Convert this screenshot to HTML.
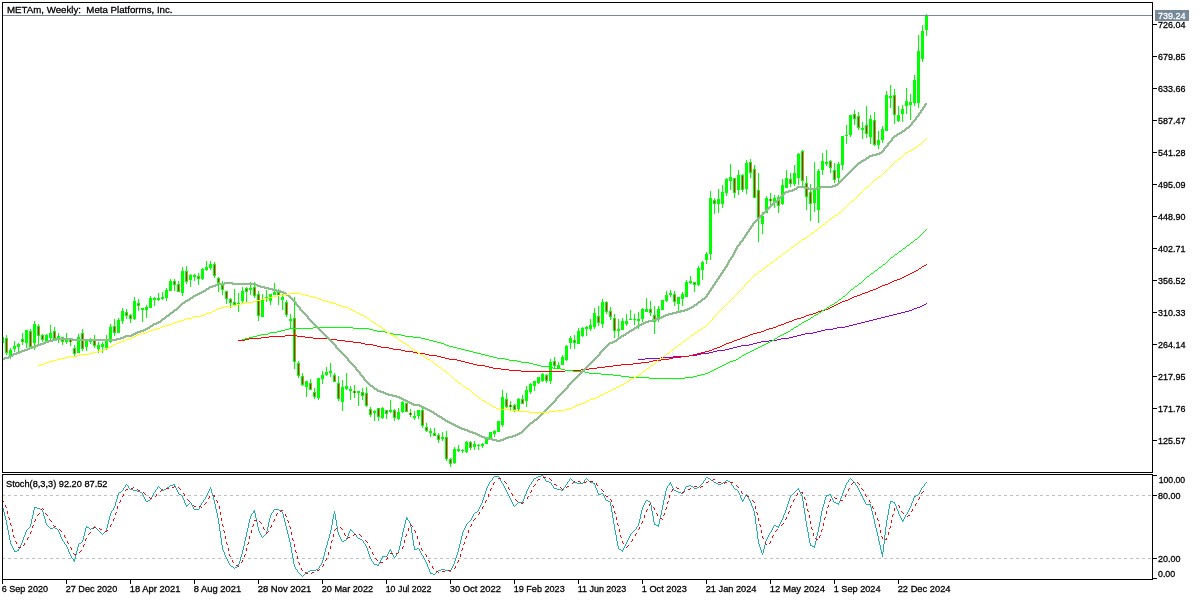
<!DOCTYPE html><html><head><meta charset="utf-8"><title>METAm Weekly</title>
<style>html,body{margin:0;padding:0;background:#fff;}body{width:1200px;height:600px;overflow:hidden;}svg{display:block;will-change:transform;}text{font-family:"Liberation Sans",sans-serif;font-size:9.8px;fill:#000;}</style></head><body>
<svg width="1200" height="600" viewBox="0 0 1200 600">
<rect x="0" y="0" width="1200" height="600" fill="#fff"/>
<defs><clipPath id="cm"><rect x="3" y="3" width="1149" height="469"/></clipPath><clipPath id="cs"><rect x="3" y="475" width="1149" height="104"/></clipPath></defs>
<g shape-rendering="crispEdges" clip-path="url(#cm)">
<path d="M2 335v10M6 335v20M10 348v11M14 341v11M18 343v9M22 333v12M26 330v18M30 329v19M34 321v29M38 324v20M42 334v8M46 334v8M50 325v15M54 327v13M58 333v10M62 337v8M66 333v11M70 338v8M74 345v12M78 334v19M82 329v22M86 340v11M90 338v6M94 335v13M98 342v11M102 342v11M106 335v15M110 324v19M114 319v17M118 318v15M122 308v16M126 309v10M130 314v9M134 297v23M138 299v12M142 308v14M146 305v13M150 296v12M154 297v9M158 293v8M162 292v8M166 288v13M170 279v12M174 279v12M178 281v11M182 267v29M186 266v18M190 274v13M194 274v7M198 273v12M202 268v12M206 261v10M210 261v9M214 262v16M218 277v15M222 281v14M226 291v13M230 298v10M234 289v16M238 293v19M242 287v17M246 287v16M250 282v13M254 282v16M258 291v30M262 294v23M266 290v12M270 294v11M274 283v12M278 289v16M282 294v16M286 300v17M290 314v14M294 297v72M298 361v17M302 373v13M306 381v16M310 379v11M314 388v11M318 378v22M322 371v13M326 367v9M330 363v14M334 373v9M338 376v25M342 380v31M346 373v17M350 386v14M354 385v13M358 391v15M362 388v12M366 387v20M370 407v10M374 410v11M378 408v13M382 407v12M386 410v9M390 400v13M394 409v12M398 408v12M402 401v12M406 403v9M410 409v8M414 411v9M418 410v9M422 408v20M426 423v9M430 428v9M434 428v8M438 433v10M442 432v9M446 431v30M450 458v9M454 447v17M458 445v7M462 449v4M466 441v12M470 441v9M474 441v9M478 444v6M482 443v5M486 437v7M490 432v6M494 430v7M498 421v11M502 390v37M506 393v15M510 401v9M514 404v8M518 398v13M522 395v9M526 386v21M530 383v11M534 381v10M538 377v7M542 373v9M546 374v9M550 359v25M554 357v11M558 362v6M562 355v10M566 345v16M570 336v13M574 335v14M578 328v16M582 327v10M586 326v10M590 319v12M594 308v21M598 306v20M602 299v29M606 301v13M610 307v13M614 314v24M618 319v18M622 318v12M626 314v12M630 310v10M634 314v11M638 312v17M642 308v14M646 298v14M650 301v15M654 306v28M658 306v16M662 300v10M666 291v11M670 290v7M674 291v15M678 297v14M682 292v14M686 280v17M690 276v8M694 282v10M698 266v20M702 261v19M706 252v12M710 191v69M714 198v16M718 189v24M722 185v23M726 178v18M730 164v26M734 178v20M738 170v25M742 174v18M746 160v34M750 159v19M754 165v33M758 173v69M762 212v22M766 196v17M770 193v14M774 195v13M778 195v18M782 179v26M786 170v18M790 173v14M794 165v21M798 153v32M802 150v36M806 176v34M810 184v37M814 162v50M818 169v54M822 153v22M826 150v16M830 160v13M834 163v20M838 162v20M842 136v34M846 125v19M850 115v22M854 110v15M858 112v18M862 122v17M866 106v32M870 115v29M874 112v34M878 131v18M882 126v17M886 91v40M890 85v23M894 89v35M898 106v16M902 105v17M906 88v26M910 94v26M914 75v31M918 35v73M922 25v37M926 14v22" stroke="#00FF00" stroke-width="1" fill="none" transform="translate(0.5,0)"/>
<path d="M1 337h3v6h-3zM5 338h3v15h-3zM9 350h3v6h-3zM13 346h3v3h-3zM17 344h3v3h-3zM21 339h3v3h-3zM25 330h3v13h-3zM29 331h3v16h-3zM33 324h3v19h-3zM37 326h3v10h-3zM41 335h3v5h-3zM45 335h3v7h-3zM49 333h3v5h-3zM53 331h3v8h-3zM57 336h3v3h-3zM61 337h3v5h-3zM65 338h3v4h-3zM69 340h3v2h-3zM73 348h3v6h-3zM77 337h3v16h-3zM81 333h3v16h-3zM85 341h3v6h-3zM89 340h3v2h-3zM93 340h3v6h-3zM97 345h3v4h-3zM101 344h3v3h-3zM105 340h3v8h-3zM109 327h3v15h-3zM113 326h3v7h-3zM117 320h3v13h-3zM121 311h3v10h-3zM125 312h3v4h-3zM129 315h3v4h-3zM133 301h3v18h-3zM137 303h3v3h-3zM141 308h3v2h-3zM145 307h3v3h-3zM149 298h3v10h-3zM153 298h3v2h-3zM157 298h3v2h-3zM161 297h3v2h-3zM165 290h3v8h-3zM169 281h3v10h-3zM173 281h3v4h-3zM177 284h3v8h-3zM181 271h3v22h-3zM185 271h3v11h-3zM189 275h3v5h-3zM193 275h3v2h-3zM197 276h3v3h-3zM201 269h3v10h-3zM205 267h3v3h-3zM209 264h3v4h-3zM213 264h3v12h-3zM217 278h3v5h-3zM221 285h3v5h-3zM225 291h3v8h-3zM229 299h3v4h-3zM233 302h3v3h-3zM237 303h3v2h-3zM241 291h3v10h-3zM245 288h3v4h-3zM249 288h3v2h-3zM253 287h3v9h-3zM257 294h3v22h-3zM261 300h3v17h-3zM265 297h3v2h-3zM269 294h3v7h-3zM273 292h3v3h-3zM277 292h3v4h-3zM281 297h3v3h-3zM285 302h3v13h-3zM289 319h3v2h-3zM293 318h3v44h-3zM297 363h3v13h-3zM301 376h3v9h-3zM305 381h3v6h-3zM309 383h3v7h-3zM313 392h3v5h-3zM317 378h3v20h-3zM321 375h3v4h-3zM325 372h3v3h-3zM329 371h3v2h-3zM333 375h3v7h-3zM337 383h3v16h-3zM341 387h3v15h-3zM345 386h3v3h-3zM349 389h3v2h-3zM353 391h3v2h-3zM357 391h3v2h-3zM361 392h3v4h-3zM365 393h3v13h-3zM369 409h3v6h-3zM373 411h3v2h-3zM377 408h3v9h-3zM381 408h3v10h-3zM385 410h3v4h-3zM389 410h3v2h-3zM393 410h3v8h-3zM397 412h3v7h-3zM401 402h3v10h-3zM405 403h3v9h-3zM409 413h3v2h-3zM413 416h3v2h-3zM417 410h3v6h-3zM421 410h3v16h-3zM425 427h3v4h-3zM429 431h3v2h-3zM433 433h3v3h-3zM437 435h3v5h-3zM441 437h3v2h-3zM445 437h3v22h-3zM449 459h3v5h-3zM453 449h3v14h-3zM457 449h3v2h-3zM461 450h3v1h-3zM465 442h3v10h-3zM469 442h3v6h-3zM473 444h3v3h-3zM477 445h3v1h-3zM481 444h3v2h-3zM485 439h3v5h-3zM489 432h3v6h-3zM493 431h3v3h-3zM497 421h3v11h-3zM501 397h3v28h-3zM505 399h3v8h-3zM509 405h3v2h-3zM513 405h3v5h-3zM517 399h3v10h-3zM521 399h3v5h-3zM525 390h3v11h-3zM529 384h3v8h-3zM533 381h3v5h-3zM537 377h3v6h-3zM541 374h3v7h-3zM545 375h3v6h-3zM549 362h3v19h-3zM553 361h3v5h-3zM557 365h3v3h-3zM561 357h3v8h-3zM565 346h3v14h-3zM569 338h3v5h-3zM573 340h3v3h-3zM577 331h3v13h-3zM581 328h3v8h-3zM585 327h3v2h-3zM589 325h3v4h-3zM593 313h3v14h-3zM597 316h3v7h-3zM601 302h3v22h-3zM605 302h3v10h-3zM609 311h3v6h-3zM613 318h3v13h-3zM617 329h3v2h-3zM621 321h3v9h-3zM625 321h3v3h-3zM629 319h3v1h-3zM633 319h3v1h-3zM637 319h3v2h-3zM641 309h3v10h-3zM645 309h3v3h-3zM649 309h3v4h-3zM653 315h3v7h-3zM657 309h3v11h-3zM661 300h3v10h-3zM665 295h3v6h-3zM669 293h3v2h-3zM673 294h3v8h-3zM677 297h3v7h-3zM681 294h3v5h-3zM685 282h3v15h-3zM689 281h3v2h-3zM693 282h3v3h-3zM697 268h3v17h-3zM701 262h3v8h-3zM705 254h3v6h-3zM709 198h3v56h-3zM713 200h3v4h-3zM717 199h3v5h-3zM721 192h3v12h-3zM725 179h3v14h-3zM729 177h3v4h-3zM733 178h3v15h-3zM737 175h3v15h-3zM741 175h3v15h-3zM745 163h3v26h-3zM749 162h3v11h-3zM753 169h3v29h-3zM757 190h3v29h-3zM761 216h3v8h-3zM765 198h3v15h-3zM769 199h3v2h-3zM773 198h3v4h-3zM777 197h3v9h-3zM781 185h3v19h-3zM785 178h3v10h-3zM789 179h3v5h-3zM793 173h3v11h-3zM797 154h3v24h-3zM801 151h3v30h-3zM805 183h3v14h-3zM809 192h3v12h-3zM813 189h3v14h-3zM817 171h3v39h-3zM821 161h3v9h-3zM825 162h3v2h-3zM829 161h3v7h-3zM833 170h3v10h-3zM837 164h3v14h-3zM841 136h3v29h-3zM845 135h3v1h-3zM849 115h3v20h-3zM853 114h3v5h-3zM857 116h3v12h-3zM861 128h3v2h-3zM865 125h3v9h-3zM869 119h3v18h-3zM873 120h3v25h-3zM877 140h3v5h-3zM881 129h3v11h-3zM885 95h3v36h-3zM889 96h3v2h-3zM893 95h3v20h-3zM897 115h3v6h-3zM901 109h3v5h-3zM905 101h3v5h-3zM909 102h3v3h-3zM913 80h3v23h-3zM917 51h3v52h-3zM921 31h3v28h-3zM925 15h3v15h-3z" fill="#00FF00"/>
<path d="M6 339v13M22 340v1M30 332v14M38 327v8M42 336v3M54 332v6M62 338v3M70 340v2M74 349v4M82 334v14M94 341v4M114 327v5M126 313v2M130 316v2M138 304v1M174 282v2M178 285v6M186 272v9M198 277v1M214 265v10M218 279v3M222 286v3M226 292v6M230 300v2M234 303v1M246 289v2M254 288v7M258 295v20M278 293v2M286 303v11M294 319v42M298 364v11M302 377v7M310 384v5M314 393v3M334 376v5M338 384v14M354 391v2M362 393v2M366 394v11M370 410v4M378 409v7M386 411v2M394 411v6M406 404v7M410 413v2M422 411v14M426 428v2M434 434v1M438 436v3M446 438v20M450 460v3M470 443v4M506 400v6M510 405v2M514 406v3M522 400v3M546 376v4M554 362v3M574 341v1M598 317v5M606 303v8M610 312v4M614 319v11M650 310v2M654 316v5M674 295v6M694 283v1M714 201v2M734 179v13M742 176v13M750 163v9M754 170v27M758 191v27M770 199v2M778 198v7M790 180v3M802 152v28M806 184v12M810 193v10M830 162v5M834 171v8M854 115v3M858 117v10M866 126v7M874 121v23M894 96v18" stroke="#FF0000" stroke-width="1" fill="none" transform="translate(0.5,0)"/>
<path d="M926 303h1M924 304h2M922 305h2M920 306h2M917 307h3M914 308h3M912 309h2M909 310h3M905 311h4M901 312h4M897 313h4M893 314h4M889 315h4M885 316h4M881 317h4M877 318h4M873 319h4M869 320h4M865 321h4M861 322h4M857 323h4M853 324h4M849 325h4M845 326h4M837 327h8M833 328h4M825 329h8M821 330h4M817 331h4M813 332h4M805 333h8M801 334h4M797 335h4M793 336h4M789 337h4M781 338h8M777 339h4M769 340h8M761 341h8M757 342h4M753 343h4M749 344h4M741 345h8M737 346h4M733 347h4M729 348h4M725 349h4M717 350h8M713 351h4M709 352h4M701 353h8M697 354h4M689 355h8M673 356h16M661 357h12M645 358h16M638 359h7" stroke="#9400D3" stroke-width="1" fill="none" transform="translate(0,0.5)"/>
<path d="M926 264h1M924 265h2M922 266h2M921 267h1M919 268h2M918 269h1M916 270h2M914 271h2M912 272h2M910 273h2M908 274h2M906 275h2M904 276h2M902 277h2M900 278h2M897 279h3M894 280h3M892 281h2M890 282h2M888 283h2M885 284h3M882 285h3M880 286h2M878 287h2M876 288h2M873 289h3M870 290h3M868 291h2M865 292h3M862 293h3M860 294h2M857 295h3M854 296h3M852 297h2M850 298h2M848 299h2M845 300h3M842 301h3M840 302h2M838 303h2M836 304h2M834 305h2M832 306h2M830 307h2M828 308h2M825 309h3M821 310h4M818 311h3M816 312h2M813 313h3M809 314h4M806 315h3M804 316h2M801 317h3M797 318h4M794 319h3M792 320h2M789 321h3M786 322h3M784 323h2M781 324h3M778 325h3M776 326h2M773 327h3M769 328h4M766 329h3M764 330h2M761 331h3M757 332h4M753 333h4M750 334h3M285 335h12M748 335h2M269 336h16M297 336h8M745 336h3M261 337h8M305 337h8M742 337h3M249 338h12M313 338h16M740 338h2M245 339h4M329 339h8M737 339h3M238 340h7M337 340h8M734 340h3M345 341h8M732 341h2M353 342h8M729 342h3M361 343h4M726 343h3M365 344h8M724 344h2M373 345h4M722 345h2M377 346h4M720 346h2M381 347h8M717 347h3M389 348h4M714 348h3M393 349h8M712 349h2M401 350h4M709 350h3M405 351h8M705 351h4M413 352h4M701 352h4M417 353h8M697 353h4M425 354h4M693 354h4M429 355h8M689 355h4M437 356h4M681 356h8M441 357h4M673 357h8M445 358h4M669 358h4M449 359h8M661 359h8M457 360h4M653 360h8M461 361h4M649 361h4M465 362h4M641 362h8M469 363h4M633 363h8M473 364h4M621 364h12M477 365h8M613 365h8M485 366h4M605 366h8M489 367h4M597 367h8M493 368h8M589 368h8M501 369h8M581 369h8M509 370h12M565 370h16M521 371h44" stroke="#FF0000" stroke-width="1" fill="none" transform="translate(0,0.5)"/>
<path d="M926 229h1M925 230h1M924 231h1M923 232h1M922 233h1M921 234h1M920 235h1M919 236h1M918 237h1M917 238h1M915 239h2M914 240h1M913 241h1M911 242h2M910 243h1M909 244h1M907 245h2M906 246h1M905 247h1M903 248h2M902 249h1M901 250h1M899 251h2M898 252h1M897 253h1M895 254h2M894 255h1M893 256h1M891 257h2M890 258h1M889 259h1M888 260h1M887 261h1M886 262h1M885 263h1M883 264h2M882 265h1M881 266h1M879 267h2M878 268h1M877 269h1M875 270h2M874 271h1M873 272h1M871 273h2M870 274h1M869 275h1M867 276h2M866 277h1M865 278h1M864 279h1M863 280h1M862 281h1M861 282h1M859 283h2M858 284h1M857 285h1M855 286h2M854 287h1M853 288h1M851 289h2M850 290h1M849 291h1M848 292h1M847 293h1M846 294h1M845 295h1M843 296h2M842 297h1M841 298h1M839 299h2M838 300h1M837 301h1M835 302h2M834 303h1M832 304h2M830 305h2M829 306h1M827 307h2M826 308h1M824 309h2M822 310h2M821 311h1M819 312h2M818 313h1M816 314h2M814 315h2M813 316h1M811 317h2M810 318h1M808 319h2M806 320h2M804 321h2M802 322h2M801 323h1M799 324h2M798 325h1M796 326h2M313 327h40M794 327h2M289 328h24M353 328h16M793 328h1M285 329h4M369 329h4M791 329h2M281 330h4M373 330h4M790 330h1M277 331h4M377 331h8M788 331h2M270 332h7M385 332h4M786 332h2M268 333h2M389 333h4M784 333h2M261 334h7M393 334h8M782 334h2M257 335h4M401 335h4M780 335h2M253 336h4M405 336h8M778 336h2M249 337h4M413 337h8M777 337h1M245 338h4M421 338h4M775 338h2M242 339h3M425 339h4M774 339h1M429 340h4M772 340h2M433 341h4M770 341h2M437 342h4M768 342h2M441 343h3M766 343h2M444 344h2M764 344h2M446 345h3M762 345h2M449 346h4M760 346h2M453 347h4M758 347h2M457 348h4M756 348h2M461 349h4M754 349h2M465 350h4M752 350h2M469 351h4M750 351h2M473 352h4M748 352h2M477 353h4M746 353h2M481 354h4M744 354h2M485 355h4M742 355h2M489 356h4M741 356h1M493 357h4M739 357h2M497 358h8M738 358h1M505 359h4M736 359h2M509 360h8M733 360h3M517 361h4M730 361h3M521 362h8M728 362h2M529 363h4M726 363h2M533 364h4M724 364h2M537 365h4M722 365h2M541 366h8M720 366h2M549 367h4M718 367h2M553 368h8M716 368h2M561 369h4M714 369h2M565 370h8M712 370h2M573 371h12M710 371h2M585 372h4M708 372h2M589 373h12M705 373h3M601 374h12M701 374h4M613 375h8M697 375h4M621 376h8M693 376h4M629 377h20M685 377h8M649 378h36" stroke="#00FF00" stroke-width="1" fill="none" transform="translate(0,0.5)"/>
<path d="M925 103h2M924 104h3M924 105h2M923 106h3M922 107h3M922 108h2M921 109h3M920 110h3M920 111h2M919 112h3M918 113h3M918 114h2M917 115h3M916 116h3M915 117h3M915 118h2M914 119h3M913 120h3M912 121h3M911 122h3M911 123h2M910 124h3M909 125h3M908 126h3M906 127h4M905 128h4M904 129h3M902 130h4M901 131h4M899 132h4M897 133h5M896 134h4M894 135h4M893 136h4M892 137h3M891 138h3M891 139h2M890 140h3M889 141h3M888 142h3M887 143h3M887 144h2M886 145h3M885 146h3M884 147h3M883 148h3M883 149h2M882 150h3M881 151h3M879 152h4M876 153h6M872 154h8M869 155h8M868 156h5M866 157h4M865 158h4M863 159h4M861 160h5M860 161h4M858 162h4M857 163h4M856 164h3M855 165h3M854 166h3M853 167h3M852 168h3M851 169h3M850 170h3M849 171h3M848 172h3M847 173h3M846 174h3M845 175h3M844 176h3M843 177h3M842 178h3M841 179h3M840 180h3M839 181h3M838 182h3M837 183h3M835 184h4M832 185h6M797 186h8M820 186h16M796 187h13M816 187h17M794 188h4M804 188h17M792 189h5M808 189h9M788 190h7M785 191h8M784 192h5M783 193h3M782 194h3M781 195h3M780 196h3M779 197h3M778 198h3M777 199h3M776 200h3M774 201h4M773 202h4M772 203h3M771 204h3M770 205h3M769 206h3M768 207h3M767 208h3M766 209h3M765 210h3M764 211h3M763 212h3M762 213h3M761 214h3M760 215h3M759 216h3M758 217h3M757 218h3M756 219h3M755 220h3M754 221h3M753 222h3M752 223h3M752 224h2M751 225h3M750 226h3M750 227h2M749 228h3M748 229h3M748 230h2M747 231h3M746 232h3M746 233h2M745 234h3M744 235h3M744 236h2M743 237h3M742 238h3M742 239h2M741 240h3M740 241h3M739 242h3M739 243h2M738 244h3M737 245h3M736 246h3M736 247h2M735 248h3M735 249h2M734 250h3M734 251h2M733 252h3M733 253h2M732 254h3M732 255h2M731 256h3M730 257h3M730 258h2M729 259h3M728 260h3M728 261h2M727 262h3M727 263h2M726 264h3M726 265h2M725 266h3M724 267h3M724 268h2M723 269h3M722 270h3M722 271h2M721 272h3M720 273h3M720 274h2M719 275h3M718 276h3M718 277h2M717 278h3M716 279h3M716 280h2M715 281h3M224 282h9M714 282h3M217 283h39M714 283h2M215 284h10M232 284h26M713 284h3M212 285h6M255 285h6M712 285h3M209 286h7M257 286h8M712 286h2M208 287h5M260 287h9M711 287h3M206 288h4M264 288h9M710 288h3M205 289h4M268 289h9M710 289h2M203 290h4M272 290h9M709 290h3M201 291h5M276 291h8M708 291h3M199 292h5M280 292h6M708 292h2M197 293h5M283 293h4M707 293h3M195 294h5M285 294h4M706 294h3M193 295h5M286 295h4M706 295h2M192 296h4M288 296h3M705 296h3M190 297h4M289 297h3M704 297h3M189 298h4M290 298h3M702 298h4M187 299h4M291 299h3M701 299h4M185 300h5M292 300h3M700 300h3M184 301h4M293 301h3M698 301h4M182 302h4M294 302h3M697 302h4M181 303h4M295 303h2M696 303h3M180 304h3M295 304h3M694 304h4M179 305h3M296 305h3M693 305h4M178 306h3M297 306h3M691 306h4M177 307h3M298 307h3M689 307h5M176 308h3M299 308h2M687 308h5M174 309h4M299 309h3M684 309h6M173 310h4M300 310h3M680 310h8M172 311h3M301 311h3M676 311h9M170 312h4M302 312h3M672 312h9M169 313h4M303 313h3M668 313h9M168 314h3M304 314h3M665 314h8M166 315h4M305 315h3M663 315h6M165 316h4M306 316h3M661 316h5M164 317h3M307 317h2M659 317h5M162 318h4M307 318h3M656 318h6M161 319h4M308 319h3M652 319h8M160 320h3M309 320h3M648 320h9M158 321h4M310 321h3M645 321h8M156 322h5M311 322h3M643 322h6M153 323h6M312 323h3M641 323h5M152 324h5M313 324h3M639 324h5M150 325h4M314 325h3M637 325h5M149 326h4M315 326h3M636 326h4M147 327h4M316 327h3M634 327h4M145 328h5M317 328h3M633 328h4M143 329h5M318 329h3M631 329h4M140 330h6M319 330h3M629 330h5M137 331h7M320 331h3M628 331h4M135 332h6M321 332h3M626 332h4M133 333h5M322 333h3M625 333h4M131 334h5M323 334h3M623 334h4M125 335h9M324 335h3M621 335h5M123 336h9M325 336h3M620 336h4M120 337h6M326 337h3M618 337h4M56 338h17M116 338h8M327 338h3M617 338h4M52 339h69M328 339h3M616 339h3M48 340h9M72 340h45M329 340h3M614 340h4M45 341h8M330 341h3M612 341h5M43 342h6M331 342h3M609 342h6M40 343h6M332 343h3M608 343h5M37 344h7M333 344h3M607 344h3M35 345h6M334 345h3M606 345h3M32 346h6M335 346h2M605 346h3M29 347h7M335 347h3M604 347h3M27 348h6M336 348h3M603 348h3M24 349h6M337 349h3M602 349h3M21 350h7M338 350h3M601 350h3M19 351h6M339 351h3M600 351h3M16 352h6M340 352h3M599 352h3M13 353h7M341 353h3M599 353h2M12 354h5M342 354h3M598 354h3M10 355h4M343 355h3M597 355h3M8 356h5M344 356h3M596 356h3M4 357h7M345 357h3M595 357h3M1 358h8M346 358h3M594 358h3M1 359h4M347 359h2M593 359h3M347 360h3M592 360h3M348 361h3M591 361h3M349 362h3M590 362h3M350 363h3M589 363h3M351 364h3M588 364h3M352 365h3M587 365h3M353 366h3M586 366h3M354 367h3M585 367h3M355 368h2M584 368h3M355 369h3M583 369h3M356 370h3M582 370h3M357 371h3M581 371h3M358 372h3M580 372h3M359 373h2M579 373h3M359 374h3M578 374h3M360 375h3M577 375h3M361 376h3M576 376h3M362 377h3M575 377h3M363 378h2M574 378h3M363 379h3M573 379h3M364 380h3M572 380h3M365 381h3M571 381h3M366 382h3M570 382h3M367 383h3M569 383h3M368 384h3M568 384h3M369 385h4M567 385h3M370 386h4M567 386h2M372 387h3M566 387h3M373 388h4M565 388h3M374 389h4M564 389h3M376 390h5M563 390h3M377 391h7M562 391h3M380 392h6M561 392h3M383 393h6M560 393h3M385 394h8M559 394h3M388 395h9M558 395h3M392 396h8M557 396h3M396 397h6M556 397h3M399 398h5M555 398h3M401 399h5M555 399h2M403 400h5M554 400h3M405 401h5M553 401h3M407 402h5M552 402h3M409 403h5M551 403h3M411 404h9M550 404h3M413 405h9M549 405h3M419 406h5M548 406h3M421 407h5M547 407h3M423 408h5M546 408h3M425 409h5M545 409h3M427 410h5M544 410h3M429 411h5M543 411h3M431 412h4M542 412h3M433 413h4M541 413h3M434 414h4M540 414h3M436 415h4M539 415h3M437 416h5M538 416h3M439 417h4M537 417h3M441 418h4M536 418h3M442 419h4M534 419h4M444 420h4M533 420h4M445 421h5M532 421h3M447 422h5M530 422h4M449 423h5M529 423h4M451 424h5M528 424h3M453 425h5M527 425h3M455 426h5M526 426h3M457 427h5M525 427h3M459 428h6M524 428h3M461 429h7M523 429h3M464 430h6M522 430h3M467 431h6M521 431h3M469 432h7M519 432h4M472 433h6M517 433h5M475 434h5M515 434h5M477 435h5M512 435h6M479 436h6M508 436h8M481 437h8M505 437h8M484 438h9M503 438h6M488 439h9M500 439h6M492 440h12M496 441h5" stroke="#8FBC8F" stroke-width="1" fill="none" transform="translate(0,0.5)"/>
<path d="M926 138h1M925 139h1M924 140h1M923 141h1M922 142h1M921 143h1M919 144h2M918 145h1M917 146h1M915 147h2M914 148h1M912 149h2M910 150h2M908 151h2M906 152h2M905 153h1M904 154h1M903 155h1M902 156h1M901 157h1M899 158h2M898 159h1M897 160h1M895 161h2M894 162h1M893 163h1M892 164h1M891 165h1M890 166h1M889 167h1M888 168h1M887 169h1M886 170h1M885 171h1M884 172h1M883 173h1M882 174h1M881 175h1M879 176h2M878 177h1M877 178h1M875 179h2M874 180h1M873 181h1M872 182h1M871 183h1M870 184h1M869 185h1M867 186h2M866 187h1M865 188h1M864 189h1M863 190h1M862 191h1M861 192h1M860 193h1M859 194h1M858 195h1M857 196h1M856 197h1M855 198h1M854 199h1M853 200h1M851 201h2M850 202h1M849 203h1M848 204h1M847 205h1M846 206h1M845 207h1M844 208h1M843 209h1M842 210h1M841 211h1M839 212h2M838 213h1M837 214h1M835 215h2M834 216h1M832 217h2M830 218h2M829 219h1M828 220h1M827 221h1M826 222h1M825 223h1M823 224h2M822 225h1M821 226h1M819 227h2M818 228h1M817 229h1M815 230h2M814 231h1M813 232h1M811 233h2M810 234h1M809 235h1M807 236h2M806 237h1M804 238h2M802 239h2M801 240h1M799 241h2M798 242h1M797 243h1M795 244h2M794 245h1M793 246h1M791 247h2M790 248h1M789 249h1M787 250h2M786 251h1M785 252h1M783 253h2M782 254h1M781 255h1M779 256h2M778 257h1M777 258h1M775 259h2M774 260h1M773 261h1M771 262h2M770 263h1M769 264h1M767 265h2M766 266h1M765 267h1M763 268h2M762 269h1M761 270h1M759 271h2M758 272h1M757 273h1M755 274h2M754 275h1M753 276h1M752 277h1M751 278h1M750 279h1M749 280h1M748 281h1M747 282h1M746 283h1M745 284h1M744 285h1M744 286h1M743 287h1M742 288h1M741 289h1M740 290h1M739 291h1M738 292h1M289 293h12M737 293h1M285 294h4M301 294h4M736 294h1M277 295h8M305 295h4M735 295h1M273 296h4M309 296h4M734 296h1M269 297h4M313 297h4M733 297h1M265 298h4M317 298h3M732 298h1M261 299h4M320 299h2M731 299h1M257 300h4M322 300h3M730 300h1M253 301h4M325 301h4M729 301h1M245 302h8M329 302h4M728 302h1M241 303h4M333 303h3M727 303h1M237 304h4M336 304h2M726 304h1M233 305h4M338 305h3M725 305h1M225 306h8M341 306h4M724 306h1M221 307h4M345 307h3M723 307h1M218 308h3M348 308h2M722 308h1M216 309h2M350 309h2M721 309h1M214 310h2M352 310h2M720 310h1M212 311h2M354 311h2M719 311h1M209 312h3M356 312h2M718 312h1M206 313h3M358 313h2M717 313h1M204 314h2M360 314h2M716 314h1M201 315h3M362 315h2M715 315h1M194 316h7M364 316h2M714 316h1M192 317h2M366 317h1M713 317h1M186 318h6M367 318h2M712 318h1M184 319h2M369 319h1M712 319h1M181 320h3M370 320h1M711 320h1M177 321h4M371 321h2M710 321h1M174 322h3M373 322h1M709 322h1M172 323h2M374 323h2M708 323h1M169 324h3M376 324h2M707 324h1M165 325h4M378 325h1M706 325h1M162 326h3M379 326h2M705 326h1M160 327h2M381 327h1M703 327h2M157 328h3M382 328h1M702 328h1M153 329h4M383 329h2M700 329h2M150 330h3M385 330h1M698 330h2M148 331h2M386 331h1M697 331h1M145 332h3M387 332h2M695 332h2M141 333h4M389 333h1M694 333h1M138 334h3M390 334h2M693 334h1M136 335h2M392 335h2M691 335h2M134 336h2M394 336h1M690 336h1M132 337h2M395 337h2M689 337h1M129 338h3M397 338h1M687 338h2M126 339h3M398 339h1M686 339h1M124 340h2M399 340h2M685 340h1M121 341h3M401 341h1M683 341h2M118 342h3M402 342h2M682 342h1M116 343h2M404 343h2M681 343h1M114 344h2M406 344h1M679 344h2M112 345h2M407 345h2M678 345h1M110 346h2M409 346h1M677 346h1M108 347h2M410 347h1M675 347h2M106 348h2M411 348h2M674 348h1M104 349h2M413 349h1M673 349h1M101 350h3M414 350h1M671 350h2M97 351h4M415 351h2M670 351h1M93 352h4M417 352h1M669 352h1M89 353h4M418 353h2M667 353h2M81 354h8M420 354h2M666 354h1M77 355h4M422 355h1M665 355h1M69 356h8M423 356h2M663 356h2M65 357h4M425 357h1M662 357h1M61 358h4M426 358h2M660 358h2M57 359h4M428 359h2M658 359h2M53 360h4M430 360h1M657 360h1M49 361h4M431 361h2M656 361h1M46 362h3M433 362h1M655 362h1M44 363h2M434 363h1M654 363h1M41 364h3M435 364h2M653 364h1M38 365h3M437 365h1M651 365h2M438 366h1M650 366h1M439 367h2M649 367h1M441 368h1M647 368h2M442 369h1M646 369h1M443 370h2M645 370h1M445 371h1M643 371h2M446 372h1M642 372h1M447 373h2M641 373h1M449 374h1M639 374h2M450 375h1M638 375h1M451 376h1M636 376h2M452 377h1M634 377h2M453 378h1M632 378h2M454 379h1M630 379h2M455 380h2M629 380h1M457 381h1M627 381h2M458 382h1M626 382h1M459 383h2M624 383h2M461 384h1M622 384h2M462 385h1M620 385h2M463 386h2M618 386h2M465 387h1M616 387h2M466 388h2M614 388h2M468 389h2M612 389h2M470 390h1M610 390h2M471 391h1M608 391h2M472 392h1M606 392h2M473 393h1M604 393h2M474 394h1M602 394h2M475 395h2M600 395h2M477 396h1M598 396h2M478 397h1M596 397h2M479 398h2M593 398h3M481 399h1M590 399h3M482 400h2M588 400h2M484 401h2M586 401h2M486 402h1M584 402h2M487 403h2M581 403h3M489 404h1M578 404h3M490 405h2M576 405h2M492 406h2M574 406h2M494 407h2M572 407h2M496 408h2M569 408h3M498 409h11M565 409h4M509 410h8M557 410h8M517 411h12M549 411h8M529 412h20" stroke="#FFFF00" stroke-width="1" fill="none" transform="translate(0,0.5)"/>
</g>
<g shape-rendering="crispEdges">
<rect x="3" y="15" width="1149" height="1" fill="#778899"/>
<path d="M2 2h1151v1h-1151zM2 2h1v471h-1zM2 474h1v106h-1zM1152 2h1v471h-1zM1152 474h1v106h-1zM2 472h1151v1h-1151zM2 474h1151v1h-1151zM2 579h1151v1h-1151zM1153 24h4v1h-4zM1153 56h4v1h-4zM1153 88h4v1h-4zM1153 120h4v1h-4zM1153 152h4v1h-4zM1153 184h4v1h-4zM1153 216h4v1h-4zM1153 248h4v1h-4zM1153 280h4v1h-4zM1153 312h4v1h-4zM1153 344h4v1h-4zM1153 376h4v1h-4zM1153 408h4v1h-4zM1153 440h4v1h-4zM1153 475h4v1h-4zM1153 495h4v1h-4zM1153 558h4v1h-4zM1153 578h4v1h-4zM2 580h1v4h-1zM66 580h1v4h-1zM130 580h1v4h-1zM194 580h1v4h-1zM258 580h1v4h-1zM322 580h1v4h-1zM386 580h1v4h-1zM450 580h1v4h-1zM514 580h1v4h-1zM578 580h1v4h-1zM642 580h1v4h-1zM706 580h1v4h-1zM770 580h1v4h-1zM834 580h1v4h-1zM898 580h1v4h-1z" fill="#000"/>
<rect x="1155" y="10" width="34" height="11" fill="#778899"/>
<path d="M3 495h2M8 495h3M14 495h3M20 495h3M26 495h3M32 495h3M38 495h3M44 495h3M50 495h3M56 495h3M62 495h3M68 495h3M74 495h3M80 495h3M86 495h3M92 495h3M98 495h3M104 495h3M110 495h3M116 495h3M122 495h3M128 495h3M134 495h3M140 495h3M146 495h3M152 495h3M158 495h3M164 495h3M170 495h3M176 495h3M182 495h3M188 495h3M194 495h3M200 495h3M206 495h3M212 495h3M218 495h3M224 495h3M230 495h3M236 495h3M242 495h3M248 495h3M254 495h3M260 495h3M266 495h3M272 495h3M278 495h3M284 495h3M290 495h3M296 495h3M302 495h3M308 495h3M314 495h3M320 495h3M326 495h3M332 495h3M338 495h3M344 495h3M350 495h3M356 495h3M362 495h3M368 495h3M374 495h3M380 495h3M386 495h3M392 495h3M398 495h3M404 495h3M410 495h3M416 495h3M422 495h3M428 495h3M434 495h3M440 495h3M446 495h3M452 495h3M458 495h3M464 495h3M470 495h3M476 495h3M482 495h3M488 495h3M494 495h3M500 495h3M506 495h3M512 495h3M518 495h3M524 495h3M530 495h3M536 495h3M542 495h3M548 495h3M554 495h3M560 495h3M566 495h3M572 495h3M578 495h3M584 495h3M590 495h3M596 495h3M602 495h3M608 495h3M614 495h3M620 495h3M626 495h3M632 495h3M638 495h3M644 495h3M650 495h3M656 495h3M662 495h3M668 495h3M674 495h3M680 495h3M686 495h3M692 495h3M698 495h3M704 495h3M710 495h3M716 495h3M722 495h3M728 495h3M734 495h3M740 495h3M746 495h3M752 495h3M758 495h3M764 495h3M770 495h3M776 495h3M782 495h3M788 495h3M794 495h3M800 495h3M806 495h3M812 495h3M818 495h3M824 495h3M830 495h3M836 495h3M842 495h3M848 495h3M854 495h3M860 495h3M866 495h3M872 495h3M878 495h3M884 495h3M890 495h3M896 495h3M902 495h3M908 495h3M914 495h3M920 495h3M926 495h3M932 495h3M938 495h3M944 495h3M950 495h3M956 495h3M962 495h3M968 495h3M974 495h3M980 495h3M986 495h3M992 495h3M998 495h3M1004 495h3M1010 495h3M1016 495h3M1022 495h3M1028 495h3M1034 495h3M1040 495h3M1046 495h3M1052 495h3M1058 495h3M1064 495h3M1070 495h3M1076 495h3M1082 495h3M1088 495h3M1094 495h3M1100 495h3M1106 495h3M1112 495h3M1118 495h3M1124 495h3M1130 495h3M1136 495h3M1142 495h3M1148 495h3M3 558h2M8 558h3M14 558h3M20 558h3M26 558h3M32 558h3M38 558h3M44 558h3M50 558h3M56 558h3M62 558h3M68 558h3M74 558h3M80 558h3M86 558h3M92 558h3M98 558h3M104 558h3M110 558h3M116 558h3M122 558h3M128 558h3M134 558h3M140 558h3M146 558h3M152 558h3M158 558h3M164 558h3M170 558h3M176 558h3M182 558h3M188 558h3M194 558h3M200 558h3M206 558h3M212 558h3M218 558h3M224 558h3M230 558h3M236 558h3M242 558h3M248 558h3M254 558h3M260 558h3M266 558h3M272 558h3M278 558h3M284 558h3M290 558h3M296 558h3M302 558h3M308 558h3M314 558h3M320 558h3M326 558h3M332 558h3M338 558h3M344 558h3M350 558h3M356 558h3M362 558h3M368 558h3M374 558h3M380 558h3M386 558h3M392 558h3M398 558h3M404 558h3M410 558h3M416 558h3M422 558h3M428 558h3M434 558h3M440 558h3M446 558h3M452 558h3M458 558h3M464 558h3M470 558h3M476 558h3M482 558h3M488 558h3M494 558h3M500 558h3M506 558h3M512 558h3M518 558h3M524 558h3M530 558h3M536 558h3M542 558h3M548 558h3M554 558h3M560 558h3M566 558h3M572 558h3M578 558h3M584 558h3M590 558h3M596 558h3M602 558h3M608 558h3M614 558h3M620 558h3M626 558h3M632 558h3M638 558h3M644 558h3M650 558h3M656 558h3M662 558h3M668 558h3M674 558h3M680 558h3M686 558h3M692 558h3M698 558h3M704 558h3M710 558h3M716 558h3M722 558h3M728 558h3M734 558h3M740 558h3M746 558h3M752 558h3M758 558h3M764 558h3M770 558h3M776 558h3M782 558h3M788 558h3M794 558h3M800 558h3M806 558h3M812 558h3M818 558h3M824 558h3M830 558h3M836 558h3M842 558h3M848 558h3M854 558h3M860 558h3M866 558h3M872 558h3M878 558h3M884 558h3M890 558h3M896 558h3M902 558h3M908 558h3M914 558h3M920 558h3M926 558h3M932 558h3M938 558h3M944 558h3M950 558h3M956 558h3M962 558h3M968 558h3M974 558h3M980 558h3M986 558h3M992 558h3M998 558h3M1004 558h3M1010 558h3M1016 558h3M1022 558h3M1028 558h3M1034 558h3M1040 558h3M1046 558h3M1052 558h3M1058 558h3M1064 558h3M1070 558h3M1076 558h3M1082 558h3M1088 558h3M1094 558h3M1100 558h3M1106 558h3M1112 558h3M1118 558h3M1124 558h3M1130 558h3M1136 558h3M1142 558h3M1148 558h3" stroke="#C0C0C0" stroke-width="1" fill="none" transform="translate(0,0.5)"/>
</g>
<g shape-rendering="crispEdges" clip-path="url(#cs)">
<path d="M541 475h2M494 476h5M538 476h3M543 476h1M493 477h1M499 477h1M536 477h2M543 477h1M706 477h2M492 478h1M499 478h1M534 478h2M544 478h1M570 478h1M586 478h1M705 478h1M708 478h2M850 478h1M492 479h1M500 479h1M533 479h1M545 479h1M569 479h1M571 479h1M585 479h1M587 479h1M705 479h1M710 479h1M849 479h1M851 479h1M491 480h1M500 480h1M533 480h1M545 480h1M569 480h1M572 480h1M584 480h1M588 480h1M704 480h1M711 480h2M726 480h2M848 480h1M852 480h1M490 481h1M501 481h1M532 481h1M546 481h3M568 481h1M573 481h1M584 481h1M589 481h1M703 481h1M713 481h1M725 481h1M728 481h2M848 481h1M853 481h1M489 482h1M501 482h1M531 482h1M549 482h2M567 482h1M574 482h3M583 482h1M590 482h3M670 482h1M703 482h1M714 482h2M723 482h2M730 482h1M847 482h1M854 482h1M926 482h1M489 483h1M502 483h1M531 483h1M551 483h1M567 483h1M577 483h6M593 483h2M669 483h2M702 483h1M716 483h2M721 483h2M731 483h1M846 483h1M855 483h1M925 483h1M126 484h1M173 484h2M488 484h1M503 484h1M530 484h1M551 484h1M566 484h1M594 484h1M669 484h1M671 484h1M701 484h1M718 484h3M731 484h1M846 484h1M855 484h1M924 484h1M125 485h1M127 485h1M170 485h3M174 485h1M488 485h1M503 485h1M529 485h1M552 485h1M565 485h1M595 485h1M668 485h1M671 485h1M689 485h2M700 485h1M732 485h1M845 485h1M856 485h1M924 485h1M125 486h1M128 486h1M158 486h1M169 486h1M175 486h1M487 486h1M504 486h1M529 486h1M553 486h1M565 486h1M595 486h1M667 486h1M672 486h1M686 486h3M691 486h2M699 486h1M733 486h1M845 486h1M857 486h1M923 486h1M124 487h1M128 487h1M157 487h1M159 487h1M167 487h2M175 487h1M210 487h1M487 487h1M504 487h1M528 487h1M553 487h1M564 487h1M595 487h1M667 487h1M672 487h1M685 487h1M693 487h1M697 487h2M733 487h1M845 487h1M857 487h1M922 487h1M123 488h1M129 488h1M157 488h1M160 488h1M166 488h1M176 488h1M210 488h1M486 488h1M505 488h1M528 488h1M554 488h3M563 488h1M596 488h1M666 488h1M673 488h1M685 488h1M694 488h3M734 488h1M798 488h1M844 488h1M858 488h1M921 488h1M123 489h1M130 489h3M156 489h1M161 489h1M164 489h2M176 489h1M209 489h1M211 489h1M486 489h1M505 489h1M527 489h1M557 489h4M563 489h1M596 489h1M666 489h1M673 489h1M684 489h1M735 489h2M797 489h2M844 489h1M858 489h1M921 489h1M122 490h1M133 490h4M155 490h1M162 490h2M177 490h1M209 490h1M211 490h1M486 490h1M506 490h1M527 490h1M561 490h2M597 490h1M666 490h1M674 490h2M684 490h1M737 490h1M796 490h1M799 490h1M843 490h1M859 490h1M920 490h1M121 491h1M137 491h3M155 491h1M177 491h1M208 491h1M211 491h1M485 491h1M506 491h1M526 491h1M597 491h1M665 491h1M676 491h2M683 491h1M738 491h1M795 491h1M799 491h1M843 491h1M859 491h1M920 491h1M119 492h2M140 492h2M154 492h1M178 492h1M208 492h1M211 492h1M485 492h1M507 492h1M526 492h1M597 492h1M665 492h1M678 492h3M683 492h1M738 492h1M794 492h1M800 492h1M843 492h1M860 492h1M919 492h1M118 493h1M142 493h1M153 493h1M178 493h1M207 493h1M212 493h1M485 493h1M507 493h1M526 493h1M598 493h1M601 493h2M665 493h1M681 493h2M739 493h1M793 493h1M800 493h1M842 493h1M860 493h1M919 493h1M118 494h1M142 494h1M153 494h1M179 494h2M207 494h1M212 494h1M484 494h1M508 494h1M525 494h1M598 494h3M603 494h1M665 494h1M739 494h1M746 494h1M792 494h1M801 494h1M829 494h2M842 494h1M861 494h1M918 494h1M117 495h1M143 495h1M152 495h1M181 495h1M206 495h1M212 495h1M484 495h1M508 495h1M525 495h1M603 495h1M665 495h1M740 495h1M745 495h1M747 495h1M791 495h1M801 495h1M826 495h3M830 495h1M842 495h1M861 495h1M916 495h2M117 496h1M143 496h1M152 496h1M182 496h1M206 496h1M213 496h1M484 496h1M509 496h1M524 496h1M604 496h1M664 496h1M740 496h1M745 496h1M747 496h1M790 496h1M802 496h1M826 496h1M831 496h1M841 496h1M862 496h1M914 496h2M117 497h1M144 497h1M151 497h1M182 497h1M205 497h1M213 497h1M483 497h1M509 497h1M524 497h1M604 497h1M664 497h1M740 497h1M744 497h1M748 497h1M790 497h1M802 497h1M825 497h1M831 497h1M841 497h1M862 497h1M914 497h1M117 498h1M144 498h1M151 498h1M183 498h1M205 498h1M213 498h1M483 498h1M510 498h1M524 498h1M605 498h1M664 498h1M741 498h1M744 498h1M748 498h1M789 498h1M802 498h1M825 498h1M832 498h1M840 498h1M863 498h1M913 498h1M116 499h1M145 499h1M150 499h1M183 499h1M204 499h1M213 499h1M483 499h1M510 499h1M523 499h1M605 499h1M664 499h1M741 499h1M743 499h1M749 499h1M789 499h1M802 499h1M825 499h1M832 499h1M840 499h1M863 499h1M913 499h1M116 500h1M145 500h1M148 500h2M184 500h1M203 500h1M214 500h1M482 500h1M511 500h1M523 500h1M606 500h2M646 500h2M663 500h1M742 500h2M749 500h1M789 500h1M802 500h1M824 500h1M833 500h1M840 500h1M864 500h1M913 500h1M116 501h1M146 501h2M184 501h1M203 501h1M214 501h1M482 501h1M511 501h1M522 501h1M608 501h2M645 501h1M648 501h2M663 501h1M742 501h1M750 501h1M788 501h1M803 501h1M824 501h1M833 501h1M839 501h1M864 501h1M890 501h3M912 501h1M115 502h1M184 502h1M190 502h1M202 502h1M214 502h1M482 502h1M512 502h1M518 502h5M610 502h1M645 502h1M650 502h1M663 502h1M750 502h1M788 502h1M803 502h1M824 502h1M834 502h2M839 502h1M865 502h1M890 502h1M893 502h2M912 502h1M115 503h1M185 503h1M189 503h1M191 503h1M201 503h1M214 503h1M481 503h1M512 503h1M517 503h1M610 503h1M644 503h1M650 503h1M663 503h1M751 503h1M788 503h1M803 503h1M824 503h1M836 503h3M865 503h1M890 503h1M894 503h1M911 503h1M115 504h1M185 504h1M188 504h1M191 504h1M201 504h1M215 504h1M481 504h1M513 504h1M516 504h1M610 504h1M644 504h1M650 504h1M663 504h1M751 504h1M787 504h1M803 504h1M823 504h1M838 504h1M866 504h5M889 504h1M895 504h1M911 504h1M2 505h1M115 505h1M186 505h2M192 505h1M200 505h1M215 505h1M480 505h1M513 505h1M515 505h1M610 505h1M643 505h1M651 505h1M662 505h1M751 505h1M787 505h1M803 505h1M823 505h1M870 505h1M889 505h1M895 505h1M911 505h1M2 506h1M114 506h1M186 506h1M192 506h1M200 506h1M215 506h1M480 506h1M514 506h1M611 506h1M643 506h1M651 506h1M662 506h1M752 506h1M787 506h1M803 506h1M823 506h1M870 506h1M889 506h1M896 506h1M910 506h1M2 507h1M34 507h3M114 507h1M193 507h1M199 507h1M215 507h1M479 507h1M611 507h1M642 507h1M651 507h1M662 507h1M752 507h1M786 507h1M803 507h1M822 507h1M871 507h1M889 507h1M896 507h1M910 507h1M3 508h1M34 508h1M37 508h3M113 508h1M193 508h1M199 508h1M215 508h1M479 508h1M611 508h1M642 508h1M651 508h1M662 508h1M753 508h1M786 508h1M804 508h1M822 508h1M871 508h1M889 508h1M896 508h1M909 508h1M3 509h1M34 509h1M40 509h2M113 509h1M194 509h5M216 509h1M274 509h5M478 509h1M611 509h1M642 509h1M651 509h1M662 509h1M753 509h1M786 509h1M804 509h1M822 509h1M871 509h1M888 509h1M897 509h1M909 509h1M3 510h1M33 510h1M42 510h1M112 510h1M216 510h1M254 510h1M273 510h1M279 510h2M478 510h1M611 510h1M641 510h1M651 510h1M661 510h1M753 510h1M785 510h1M804 510h1M822 510h1M871 510h1M888 510h1M897 510h1M908 510h1M3 511h1M33 511h1M42 511h1M111 511h1M216 511h1M253 511h2M273 511h1M281 511h1M334 511h1M477 511h1M611 511h1M641 511h1M652 511h1M661 511h1M754 511h1M785 511h1M804 511h1M821 511h1M872 511h1M888 511h1M898 511h1M908 511h1M4 512h1M33 512h1M43 512h1M111 512h1M216 512h1M253 512h2M272 512h1M282 512h1M334 512h1M475 512h2M612 512h1M641 512h1M652 512h1M661 512h1M754 512h1M785 512h1M804 512h1M821 512h1M872 512h1M888 512h1M898 512h1M907 512h1M4 513h1M33 513h1M43 513h1M110 513h1M217 513h1M252 513h1M255 513h1M271 513h1M282 513h1M334 513h1M474 513h1M612 513h1M641 513h1M652 513h1M661 513h1M754 513h1M784 513h1M804 513h1M821 513h1M872 513h1M888 513h1M898 513h1M907 513h1M4 514h1M33 514h1M43 514h1M110 514h1M217 514h1M251 514h1M255 514h1M271 514h1M283 514h1M333 514h1M335 514h1M473 514h1M612 514h1M640 514h1M652 514h1M661 514h1M754 514h1M784 514h1M805 514h1M821 514h1M872 514h1M888 514h1M899 514h1M906 514h1M4 515h1M32 515h1M43 515h1M110 515h1M217 515h1M251 515h1M255 515h1M270 515h1M283 515h1M333 515h1M335 515h1M473 515h1M612 515h1M640 515h1M652 515h1M660 515h1M754 515h1M783 515h1M805 515h1M821 515h1M873 515h1M887 515h1M899 515h1M905 515h1M5 516h1M32 516h1M44 516h1M109 516h1M217 516h1M250 516h1M255 516h1M270 516h1M283 516h1M333 516h1M335 516h1M472 516h1M612 516h1M640 516h1M653 516h1M660 516h1M755 516h1M783 516h1M805 516h1M820 516h1M873 516h1M887 516h1M900 516h1M905 516h1M5 517h1M32 517h1M44 517h1M109 517h1M217 517h1M250 517h1M255 517h1M270 517h1M283 517h1M333 517h1M335 517h1M406 517h1M472 517h1M612 517h1M640 517h1M653 517h1M660 517h1M755 517h1M783 517h1M805 517h1M820 517h1M873 517h1M887 517h1M900 517h1M904 517h1M5 518h1M32 518h1M44 518h1M109 518h1M218 518h1M250 518h1M256 518h1M269 518h1M284 518h1M333 518h1M335 518h1M406 518h2M471 518h1M613 518h1M640 518h1M653 518h1M660 518h1M755 518h1M782 518h1M805 518h1M820 518h1M873 518h1M887 518h1M901 518h1M904 518h1M5 519h1M31 519h1M45 519h1M109 519h1M218 519h1M249 519h1M256 519h1M269 519h1M284 519h1M332 519h1M335 519h1M406 519h2M471 519h1M613 519h1M639 519h1M653 519h1M659 519h1M755 519h1M782 519h1M805 519h1M820 519h1M874 519h1M887 519h1M901 519h1M903 519h1M6 520h1M31 520h1M45 520h1M108 520h1M218 520h1M249 520h1M256 520h1M269 520h1M284 520h1M332 520h1M336 520h1M405 520h1M408 520h1M470 520h1M613 520h1M639 520h1M653 520h1M659 520h1M755 520h1M781 520h1M805 520h1M820 520h1M874 520h1M886 520h1M902 520h2M6 521h1M31 521h1M45 521h1M108 521h1M218 521h1M249 521h1M256 521h1M269 521h1M284 521h1M332 521h1M336 521h1M405 521h1M409 521h1M469 521h1M613 521h1M639 521h1M653 521h1M659 521h1M755 521h1M781 521h1M806 521h1M820 521h1M874 521h1M886 521h1M902 521h1M6 522h1M31 522h1M45 522h1M108 522h1M218 522h1M249 522h1M257 522h1M268 522h1M285 522h1M332 522h1M336 522h1M405 522h1M409 522h1M468 522h1M613 522h1M639 522h1M654 522h1M659 522h1M755 522h1M780 522h1M806 522h1M819 522h1M874 522h1M886 522h1M6 523h1M31 523h1M46 523h1M108 523h1M218 523h1M248 523h1M257 523h1M268 523h1M285 523h1M332 523h1M336 523h1M405 523h1M410 523h1M467 523h1M613 523h1M638 523h1M654 523h1M659 523h1M755 523h1M780 523h1M806 523h1M819 523h1M874 523h1M886 523h1M6 524h1M30 524h1M46 524h1M107 524h1M219 524h1M248 524h1M257 524h1M268 524h1M285 524h1M332 524h1M336 524h1M404 524h1M410 524h1M466 524h1M614 524h1M638 524h1M654 524h2M658 524h1M756 524h1M779 524h1M806 524h1M819 524h1M875 524h1M886 524h1M7 525h1M30 525h1M47 525h1M107 525h1M219 525h1M248 525h1M257 525h1M268 525h1M285 525h1M331 525h1M336 525h1M404 525h1M410 525h1M466 525h1M614 525h1M638 525h1M656 525h3M756 525h1M774 525h2M779 525h1M806 525h1M819 525h1M875 525h1M886 525h1M7 526h1M30 526h1M48 526h1M86 526h1M94 526h1M107 526h1M219 526h1M248 526h1M257 526h1M268 526h1M286 526h1M331 526h1M337 526h1M404 526h1M410 526h1M465 526h1M614 526h1M637 526h1M658 526h1M756 526h1M773 526h1M776 526h3M806 526h1M819 526h1M875 526h1M886 526h1M7 527h1M29 527h1M49 527h1M53 527h2M86 527h3M93 527h1M95 527h1M107 527h1M219 527h1M248 527h1M258 527h1M267 527h1M286 527h1M331 527h1M337 527h1M404 527h1M411 527h1M465 527h1M614 527h1M636 527h1M756 527h1M773 527h1M778 527h1M807 527h1M818 527h1M875 527h1M885 527h1M7 528h1M28 528h1M50 528h3M55 528h2M85 528h1M89 528h1M91 528h2M96 528h1M106 528h1M219 528h1M247 528h1M258 528h1M267 528h1M286 528h1M331 528h1M337 528h1M403 528h1M411 528h1M464 528h1M614 528h1M636 528h1M756 528h1M772 528h1M807 528h1M818 528h1M876 528h1M885 528h1M7 529h1M27 529h1M57 529h1M85 529h1M90 529h1M97 529h1M106 529h1M219 529h1M247 529h1M258 529h1M267 529h1M286 529h1M331 529h1M337 529h1M350 529h1M403 529h1M411 529h1M464 529h1M614 529h1M635 529h1M756 529h1M772 529h1M807 529h1M818 529h1M876 529h1M885 529h1M8 530h1M26 530h1M58 530h1M85 530h1M98 530h1M106 530h1M219 530h1M247 530h1M258 530h1M267 530h1M287 530h1M330 530h1M337 530h1M350 530h2M403 530h1M411 530h1M463 530h1M615 530h1M634 530h1M756 530h1M771 530h1M807 530h1M818 530h1M876 530h1M885 530h1M8 531h1M26 531h1M58 531h1M85 531h1M99 531h1M105 531h1M220 531h1M247 531h1M259 531h1M266 531h1M287 531h1M330 531h1M337 531h1M349 531h1M352 531h1M403 531h1M411 531h1M463 531h1M615 531h1M633 531h1M757 531h1M771 531h1M807 531h1M818 531h1M876 531h1M885 531h1M8 532h1M25 532h1M59 532h1M84 532h1M100 532h1M104 532h1M220 532h1M246 532h1M259 532h1M266 532h1M287 532h1M330 532h1M338 532h1M349 532h1M353 532h1M402 532h1M411 532h1M462 532h1M615 532h1M632 532h1M757 532h1M770 532h1M808 532h1M817 532h1M877 532h1M885 532h1M8 533h1M25 533h1M59 533h1M84 533h1M101 533h1M103 533h1M220 533h1M246 533h1M260 533h1M266 533h1M287 533h1M330 533h1M338 533h1M348 533h1M354 533h1M402 533h1M412 533h1M462 533h1M615 533h1M631 533h1M757 533h1M769 533h1M808 533h1M817 533h1M877 533h1M885 533h1M8 534h1M25 534h1M60 534h1M84 534h1M102 534h1M220 534h1M246 534h1M260 534h1M265 534h1M288 534h1M329 534h1M338 534h1M348 534h1M355 534h1M402 534h1M412 534h1M462 534h1M615 534h1M630 534h1M757 534h1M769 534h1M808 534h1M817 534h1M877 534h1M885 534h1M9 535h1M24 535h1M60 535h1M84 535h1M220 535h1M246 535h1M261 535h1M264 535h1M288 535h1M329 535h1M339 535h1M348 535h1M356 535h1M402 535h1M412 535h1M462 535h1M616 535h1M630 535h1M757 535h1M768 535h1M808 535h1M817 535h1M877 535h1M884 535h1M9 536h1M24 536h1M60 536h1M83 536h1M220 536h1M246 536h1M261 536h1M263 536h1M288 536h1M329 536h1M339 536h1M347 536h1M356 536h1M402 536h1M412 536h1M461 536h1M616 536h1M629 536h1M757 536h1M768 536h1M808 536h1M816 536h1M878 536h1M884 536h1M9 537h1M23 537h1M61 537h1M83 537h1M220 537h1M245 537h1M262 537h1M288 537h1M329 537h1M340 537h1M347 537h1M357 537h1M401 537h1M412 537h1M461 537h1M616 537h1M629 537h1M757 537h1M767 537h1M808 537h1M816 537h1M878 537h1M884 537h1M9 538h1M23 538h1M61 538h1M83 538h1M221 538h1M245 538h1M289 538h1M328 538h1M340 538h1M346 538h1M358 538h2M401 538h1M412 538h1M461 538h1M616 538h1M628 538h1M757 538h1M767 538h1M809 538h1M816 538h1M878 538h1M884 538h1M9 539h1M23 539h1M62 539h1M83 539h1M221 539h1M245 539h1M289 539h1M328 539h1M341 539h1M346 539h1M360 539h2M401 539h1M412 539h1M461 539h1M616 539h1M628 539h1M758 539h1M766 539h1M809 539h1M816 539h1M878 539h1M884 539h1M10 540h1M22 540h1M62 540h1M82 540h1M221 540h1M245 540h1M289 540h1M328 540h1M341 540h1M344 540h2M362 540h1M401 540h1M413 540h1M460 540h1M616 540h1M627 540h1M758 540h1M766 540h1M809 540h1M816 540h1M878 540h1M884 540h1M10 541h1M22 541h1M63 541h1M82 541h1M221 541h1M244 541h1M289 541h1M327 541h1M342 541h2M363 541h1M400 541h1M413 541h1M460 541h1M617 541h1M627 541h1M758 541h1M765 541h1M809 541h1M815 541h1M879 541h1M884 541h1M10 542h1M22 542h1M64 542h1M81 542h1M221 542h1M244 542h1M290 542h1M327 542h1M363 542h1M400 542h1M413 542h1M460 542h1M617 542h1M626 542h1M758 542h1M765 542h1M809 542h1M815 542h1M879 542h1M884 542h1M10 543h1M21 543h1M64 543h1M79 543h2M221 543h1M244 543h1M290 543h1M327 543h1M364 543h1M400 543h1M413 543h1M460 543h1M617 543h1M626 543h1M758 543h1M765 543h1M810 543h1M815 543h1M879 543h1M884 543h1M11 544h1M21 544h1M65 544h1M78 544h1M221 544h1M244 544h1M290 544h1M327 544h1M365 544h1M400 544h1M413 544h1M459 544h1M617 544h1M625 544h1M759 544h1M765 544h1M810 544h1M815 544h1M879 544h1M883 544h1M11 545h1M20 545h1M66 545h1M78 545h1M222 545h1M244 545h1M290 545h1M326 545h1M365 545h1M400 545h1M413 545h1M459 545h1M617 545h1M625 545h1M759 545h1M764 545h1M810 545h2M814 545h1M880 545h1M883 545h1M12 546h1M20 546h1M66 546h1M78 546h1M222 546h1M243 546h1M290 546h1M326 546h1M366 546h1M399 546h1M414 546h1M459 546h1M618 546h1M624 546h1M759 546h1M764 546h1M812 546h3M880 546h1M883 546h1M12 547h1M19 547h1M67 547h1M77 547h1M222 547h1M243 547h1M291 547h1M326 547h1M366 547h1M399 547h1M414 547h1M459 547h1M618 547h1M624 547h1M760 547h1M764 547h1M814 547h1M880 547h1M883 547h1M13 548h1M19 548h1M67 548h1M77 548h1M222 548h1M243 548h1M291 548h1M325 548h1M367 548h1M399 548h1M414 548h1M417 548h2M458 548h1M618 548h1M623 548h1M760 548h1M764 548h1M880 548h1M883 548h1M13 549h1M18 549h1M68 549h1M77 549h1M222 549h1M243 549h1M291 549h1M325 549h1M367 549h1M390 549h1M399 549h1M414 549h3M419 549h1M458 549h1M619 549h2M623 549h1M760 549h1M763 549h1M880 549h1M883 549h1M14 550h1M17 550h2M68 550h1M77 550h1M223 550h1M242 550h1M291 550h1M325 550h1M367 550h1M389 550h2M398 550h1M419 550h1M458 550h1M621 550h2M761 550h1M763 550h1M881 550h1M883 550h1M14 551h3M68 551h1M76 551h1M223 551h1M242 551h1M291 551h1M325 551h1M368 551h1M389 551h1M391 551h1M398 551h1M420 551h1M458 551h1M622 551h1M761 551h1M763 551h1M881 551h1M883 551h1M69 552h1M76 552h1M224 552h1M242 552h1M291 552h1M324 552h1M368 552h1M388 552h1M391 552h1M398 552h1M420 552h1M457 552h1M761 552h1M763 552h1M881 552h2M69 553h1M76 553h1M224 553h1M242 553h1M292 553h1M324 553h1M368 553h1M388 553h1M392 553h1M397 553h1M421 553h1M457 553h1M762 553h1M881 553h2M70 554h1M76 554h1M224 554h1M241 554h1M292 554h1M324 554h1M369 554h1M387 554h1M392 554h1M396 554h1M421 554h1M457 554h1M762 554h1M882 554h1M70 555h1M75 555h1M225 555h1M241 555h1M292 555h1M324 555h1M369 555h1M387 555h1M393 555h1M396 555h1M422 555h1M456 555h1M882 555h1M71 556h1M75 556h1M225 556h1M241 556h1M292 556h1M323 556h1M369 556h1M382 556h5M393 556h1M395 556h1M423 556h1M456 556h1M882 556h1M71 557h1M75 557h1M226 557h1M240 557h1M292 557h1M323 557h1M370 557h1M382 557h1M394 557h1M423 557h1M456 557h1M72 558h1M75 558h1M226 558h1M240 558h1M293 558h1M323 558h1M370 558h1M381 558h1M424 558h1M455 558h1M73 559h2M227 559h1M240 559h1M293 559h1M323 559h1M371 559h1M381 559h1M424 559h1M455 559h1M73 560h2M227 560h1M240 560h1M293 560h1M322 560h1M371 560h1M380 560h1M425 560h1M455 560h1M74 561h1M228 561h1M239 561h1M293 561h1M322 561h1M372 561h1M380 561h1M425 561h1M454 561h1M228 562h1M239 562h1M293 562h1M322 562h1M373 562h1M379 562h1M426 562h1M454 562h1M229 563h1M239 563h1M293 563h1M321 563h1M373 563h1M379 563h1M426 563h1M454 563h1M229 564h1M238 564h1M294 564h1M321 564h1M374 564h3M378 564h1M427 564h1M453 564h1M230 565h1M238 565h1M294 565h1M320 565h1M377 565h2M427 565h1M453 565h1M231 566h2M237 566h1M294 566h1M319 566h1M427 566h1M452 566h1M233 567h1M235 567h2M295 567h1M319 567h1M428 567h1M452 567h1M234 568h1M295 568h1M318 568h1M428 568h1M451 568h1M296 569h1M316 569h2M429 569h1M441 569h4M451 569h1M297 570h1M310 570h6M429 570h1M438 570h3M445 570h4M450 570h1M297 571h1M308 571h2M429 571h1M437 571h1M449 571h2M298 572h1M306 572h2M430 572h1M436 572h1M299 573h1M305 573h1M430 573h3M435 573h1M300 574h1M304 574h1M433 574h2M301 575h1M303 575h1M302 576h1" stroke="#20B2AA" stroke-width="1" fill="none" transform="translate(0,0.5)"/>
<path d="M543 477h3M498 478h3M549 478h1M538 479h2M550 479h1M713 479h2M537 480h1M551 480h1M712 480h1M504 481h1M574 481h1M578 481h2M586 481h1M590 481h3M708 481h1M494 482h1M505 482h1M573 482h1M580 482h1M584 482h2M706 482h2M718 482h3M725 482h2M730 482h3M853 482h1M857 482h1M493 483h1M506 483h1M572 483h1M596 483h1M724 483h1M852 483h1M858 483h1M493 484h1M535 484h1M554 484h2M596 484h1M851 484h1M859 484h1M534 485h1M556 485h1M597 485h1M736 485h1M174 486h1M533 486h1M567 486h2M694 486h3M701 486h2M737 486h1M133 487h1M172 487h2M178 487h1M508 487h1M560 487h1M566 487h1M676 487h1M700 487h1M738 487h1M131 488h2M166 488h3M179 488h1M491 488h1M508 488h1M561 488h1M677 488h2M690 488h1M849 488h1M861 488h1M126 489h2M137 489h1M162 489h1M180 489h1M490 489h1M509 489h1M562 489h1M601 489h1M672 489h1M688 489h2M848 489h1M862 489h1M125 490h1M138 490h2M161 490h1M490 490h1M531 490h1M602 490h1M672 490h1M848 490h1M863 490h1M160 491h1M531 491h1M603 491h1M671 491h1M684 491h1M741 491h1M923 491h1M143 492h1M530 492h1M682 492h2M741 492h1M801 492h2M922 492h1M144 493h1M183 493h1M511 493h1M742 493h1M797 493h1M802 493h1M921 493h1M123 494h1M145 494h1M156 494h1M184 494h1M488 494h1M512 494h1M797 494h1M846 494h1M865 494h1M123 495h1M156 495h1M184 495h1M213 495h2M488 495h1M512 495h1M605 495h1M669 495h1M746 495h1M796 495h1M845 495h1M865 495h1M122 496h1M155 496h1M209 496h1M214 496h1M488 496h1M528 496h1M606 496h2M669 496h1M747 496h2M845 496h1M866 496h1M149 497h1M209 497h1M527 497h1M669 497h1M804 497h1M834 497h1M919 497h1M150 498h2M208 498h1M527 498h1M804 498h1M835 498h2M919 498h1M2 499h1M187 499h1M515 499h1M610 499h1M794 499h1M805 499h1M830 499h1M918 499h1M2 500h1M120 500h1M188 500h1M216 500h1M486 500h1M516 500h1M611 500h1M752 500h1M793 500h1M830 500h1M840 500h3M869 500h1M3 501h1M120 501h1M189 501h1M217 501h1M485 501h1M517 501h1M611 501h1M668 501h1M753 501h1M793 501h1M829 501h1M869 501h1M119 502h1M206 502h1M217 502h1M485 502h1M523 502h1M667 502h1M754 502h1M870 502h1M205 503h1M521 503h2M650 503h1M667 503h1M806 503h1M916 503h1M204 504h1M649 504h1M806 504h1M915 504h1M5 505h1M193 505h1M612 505h1M649 505h1M791 505h1M806 505h1M828 505h1M898 505h1M915 505h1M5 506h1M117 506h1M194 506h2M199 506h2M219 506h1M483 506h1M613 506h1M755 506h1M790 506h1M828 506h1M872 506h1M899 506h1M6 507h1M117 507h1M201 507h1M219 507h1M482 507h1M613 507h1M653 507h1M666 507h1M755 507h1M790 507h1M827 507h1M872 507h1M899 507h1M42 508h1M117 508h1M219 508h1M482 508h1M654 508h1M666 508h1M755 508h1M873 508h1M894 508h1M41 509h1M43 509h1M647 509h1M654 509h1M665 509h1M807 509h1M894 509h1M912 509h1M281 510h2M646 510h1M807 510h1M894 510h1M912 510h1M7 511h1M280 511h1M614 511h1M646 511h1M789 511h1M808 511h1M826 511h1M901 511h1M911 511h1M7 512h1M116 512h1M220 512h1M479 512h1M614 512h1M756 512h1M788 512h1M826 512h1M875 512h1M902 512h1M7 513h1M39 513h1M45 513h1M115 513h1M220 513h1M277 513h1M479 513h1M615 513h1M656 513h1M664 513h1M757 513h1M788 513h1M826 513h1M875 513h1M903 513h1M38 514h1M46 514h1M115 514h1M220 514h1M276 514h1M285 514h1M478 514h1M657 514h1M664 514h1M757 514h1M875 514h1M893 514h1M37 515h1M47 515h1M276 515h1M285 515h1M644 515h1M657 515h1M663 515h1M809 515h1M892 515h1M908 515h2M286 516h1M644 516h1M809 516h1M892 516h1M907 516h1M8 517h1M616 517h1M644 517h1M786 517h1M809 517h1M825 517h1M9 518h1M114 518h1M221 518h1M475 518h1M616 518h1M660 518h2M758 518h1M786 518h1M824 518h1M877 518h1M9 519h1M35 519h1M49 519h1M113 519h1M221 519h1M274 519h1M474 519h1M616 519h1M662 519h1M758 519h1M785 519h1M824 519h1M877 519h1M35 520h1M50 520h1M113 520h1M221 520h1M254 520h3M274 520h1M287 520h1M473 520h1M758 520h1M878 520h1M891 520h1M34 521h1M51 521h1M259 521h1M273 521h1M288 521h1M642 521h1M810 521h1M891 521h1M260 522h1M288 522h1M642 522h1M810 522h1M891 522h1M10 523h1M261 523h1M617 523h1M641 523h1M783 523h1M810 523h1M823 523h1M10 524h1M111 524h1M222 524h1M253 524h1M410 524h1M471 524h1M617 524h1M759 524h1M782 524h1M823 524h1M879 524h1M11 525h1M33 525h1M53 525h1M110 525h1M222 525h1M253 525h1M271 525h1M411 525h1M471 525h1M618 525h1M760 525h1M781 525h1M823 525h1M879 525h1M32 526h1M54 526h2M110 526h1M223 526h1M252 526h1M271 526h1M289 526h1M412 526h1M470 526h1M760 526h1M879 526h1M890 526h1M32 527h1M94 527h2M263 527h1M270 527h1M290 527h1M340 527h1M639 527h1M811 527h1M890 527h1M93 528h1M99 528h1M263 528h1M290 528h1M336 528h1M341 528h1M408 528h1M639 528h1M811 528h1M889 528h1M12 529h1M59 529h1M100 529h2M264 529h1M335 529h1M342 529h1M408 529h1M619 529h1M638 529h1M777 529h1M812 529h1M822 529h1M12 530h1M60 530h1M107 530h1M223 530h1M251 530h1M334 530h1M408 530h1M414 530h1M468 530h1M619 530h1M761 530h1M776 530h1M821 530h1M880 530h1M12 531h1M31 531h1M61 531h1M105 531h2M224 531h1M251 531h1M268 531h1M415 531h1M468 531h1M619 531h1M761 531h1M775 531h1M821 531h1M880 531h1M30 532h1M90 532h1M224 532h1M251 532h1M267 532h1M291 532h1M415 532h1M468 532h1M761 532h1M880 532h1M888 532h1M30 533h1M89 533h1M266 533h1M291 533h1M344 533h1M636 533h1M813 533h1M888 533h1M88 534h1M291 534h1M333 534h1M344 534h1M354 534h2M359 534h1M406 534h1M635 534h1M813 534h1M888 534h1M13 535h1M64 535h1M333 535h1M345 535h1M353 535h1M360 535h1M406 535h1M620 535h1M635 535h1M773 535h1M813 535h1M820 535h1M13 536h1M64 536h1M225 536h1M249 536h1M333 536h1M361 536h1M405 536h1M417 536h1M466 536h1M620 536h1M762 536h1M772 536h1M819 536h1M881 536h1M14 537h1M28 537h1M65 537h1M225 537h1M249 537h1M348 537h2M417 537h1M466 537h1M621 537h1M762 537h1M772 537h1M819 537h1M882 537h1M27 538h1M86 538h1M225 538h1M249 538h1M292 538h1M347 538h1M417 538h1M465 538h1M763 538h1M815 538h1M882 538h1M886 538h1M27 539h1M85 539h1M292 539h1M632 539h1M816 539h2M885 539h2M85 540h1M293 540h1M332 540h1M365 540h1M404 540h1M632 540h1M15 541h1M67 541h1M331 541h1M366 541h1M404 541h1M622 541h1M631 541h1M770 541h1M16 542h1M67 542h1M226 542h1M248 542h1M331 542h1M367 542h1M404 542h1M419 542h1M464 542h1M622 542h1M765 542h1M770 542h1M16 543h1M24 543h1M68 543h1M226 543h1M248 543h1M419 543h1M464 543h1M623 543h1M765 543h1M769 543h1M24 544h1M84 544h1M227 544h1M247 544h1M294 544h1M419 544h1M463 544h1M766 544h1M23 545h1M83 545h1M294 545h1M628 545h1M83 546h1M294 546h1M330 546h1M369 546h1M403 546h1M627 546h1M18 547h3M70 547h1M330 547h1M369 547h1M402 547h1M626 547h1M71 548h1M228 548h1M246 548h1M330 548h1M370 548h1M402 548h1M421 548h1M462 548h1M71 549h1M228 549h1M246 549h1M421 549h1M462 549h1M81 550h1M228 550h1M246 550h1M295 550h1M422 550h1M461 550h1M80 551h1M295 551h1M79 552h1M296 552h1M328 552h1M372 552h1M398 552h1M73 553h1M328 553h1M372 553h1M390 553h3M396 553h2M74 554h2M229 554h1M245 554h1M328 554h1M373 554h1M425 554h1M460 554h1M229 555h1M244 555h1M426 555h1M460 555h1M230 556h1M244 556h1M297 556h1M426 556h1M460 556h1M297 557h1M387 557h1M297 558h1M326 558h1M375 558h1M387 558h1M326 559h1M376 559h1M386 559h1M232 560h1M242 560h1M325 560h1M377 560h1M428 560h1M458 560h1M232 561h1M242 561h1M429 561h1M458 561h1M233 562h1M241 562h1M298 562h1M380 562h3M429 562h1M457 562h1M299 563h1M299 564h1M323 564h1M236 565h2M323 565h1M238 566h1M322 566h1M432 566h1M455 566h1M432 567h1M455 567h1M301 568h1M433 568h1M454 568h1M301 569h1M319 569h1M302 570h1M317 570h2M448 570h3M436 571h2M442 571h3M305 572h1M312 572h2M438 572h1M306 573h2M311 573h1" stroke="#FF0000" stroke-width="1" fill="none" transform="translate(0,0.5)"/>
</g>
<g stroke="#000" stroke-width="0.3">
<text x="7" y="13" textLength="165.5" lengthAdjust="spacingAndGlyphs" xml:space="preserve">METAm, Weekly:  Meta Platforms, Inc.</text>
<text x="6" y="487" textLength="101.5" lengthAdjust="spacingAndGlyphs" xml:space="preserve">Stoch(8,3,3) 92.20 87.52</text>
<text x="1158" y="28" textLength="27.4" lengthAdjust="spacingAndGlyphs" xml:space="preserve">726.04</text>
<text x="1158" y="60" textLength="27.4" lengthAdjust="spacingAndGlyphs" xml:space="preserve">679.85</text>
<text x="1158" y="92" textLength="27.4" lengthAdjust="spacingAndGlyphs" xml:space="preserve">633.66</text>
<text x="1158" y="124" textLength="27.4" lengthAdjust="spacingAndGlyphs" xml:space="preserve">587.47</text>
<text x="1158" y="156" textLength="27.4" lengthAdjust="spacingAndGlyphs" xml:space="preserve">541.28</text>
<text x="1158" y="188" textLength="27.4" lengthAdjust="spacingAndGlyphs" xml:space="preserve">495.09</text>
<text x="1158" y="220" textLength="27.4" lengthAdjust="spacingAndGlyphs" xml:space="preserve">448.90</text>
<text x="1158" y="252" textLength="27.4" lengthAdjust="spacingAndGlyphs" xml:space="preserve">402.71</text>
<text x="1158" y="284" textLength="27.4" lengthAdjust="spacingAndGlyphs" xml:space="preserve">356.52</text>
<text x="1158" y="316" textLength="27.4" lengthAdjust="spacingAndGlyphs" xml:space="preserve">310.33</text>
<text x="1158" y="348" textLength="27.4" lengthAdjust="spacingAndGlyphs" xml:space="preserve">264.14</text>
<text x="1158" y="380" textLength="27.4" lengthAdjust="spacingAndGlyphs" xml:space="preserve">217.95</text>
<text x="1158" y="412" textLength="27.4" lengthAdjust="spacingAndGlyphs" xml:space="preserve">171.76</text>
<text x="1158" y="444" textLength="27.4" lengthAdjust="spacingAndGlyphs" xml:space="preserve">125.57</text>
<text x="1158" y="19" textLength="27.4" lengthAdjust="spacingAndGlyphs" style="fill:#fff;stroke:#fff" xml:space="preserve">739.24</text>
<text x="1158.7" y="483" textLength="26.5" lengthAdjust="spacingAndGlyphs" xml:space="preserve">100.00</text>
<text x="1158" y="499" textLength="22.5" lengthAdjust="spacingAndGlyphs" xml:space="preserve">80.00</text>
<text x="1158" y="562" textLength="22.5" lengthAdjust="spacingAndGlyphs" xml:space="preserve">20.00</text>
<text x="1158" y="577" textLength="17.2" lengthAdjust="spacingAndGlyphs" xml:space="preserve">0.00</text>
<text x="1.7" y="592" textLength="46.3" lengthAdjust="spacingAndGlyphs" xml:space="preserve">6 Sep 2020</text>
<text x="65.7" y="592" textLength="51.55" lengthAdjust="spacingAndGlyphs" xml:space="preserve">27 Dec 2020</text>
<text x="129.7" y="592" textLength="50.8" lengthAdjust="spacingAndGlyphs" xml:space="preserve">18 Apr 2021</text>
<text x="193.7" y="592" textLength="47.55" lengthAdjust="spacingAndGlyphs" xml:space="preserve">8 Aug 2021</text>
<text x="257.7" y="592" textLength="53.599999999999994" lengthAdjust="spacingAndGlyphs" xml:space="preserve">28 Nov 2021</text>
<text x="321.7" y="592" textLength="51.4" lengthAdjust="spacingAndGlyphs" xml:space="preserve">20 Mar 2022</text>
<text x="385.7" y="592" textLength="45.699999999999996" lengthAdjust="spacingAndGlyphs" xml:space="preserve">10 Jul 2022</text>
<text x="449.7" y="592" textLength="51.199999999999996" lengthAdjust="spacingAndGlyphs" xml:space="preserve">30 Oct 2022</text>
<text x="513.7" y="592" textLength="51.0" lengthAdjust="spacingAndGlyphs" xml:space="preserve">19 Feb 2023</text>
<text x="577.7" y="592" textLength="48.599999999999994" lengthAdjust="spacingAndGlyphs" xml:space="preserve">11 Jun 2023</text>
<text x="641.7" y="592" textLength="45.099999999999994" lengthAdjust="spacingAndGlyphs" xml:space="preserve">1 Oct 2023</text>
<text x="705.7" y="592" textLength="50.8" lengthAdjust="spacingAndGlyphs" xml:space="preserve">21 Jan 2024</text>
<text x="769.7" y="592" textLength="55.3" lengthAdjust="spacingAndGlyphs" xml:space="preserve">12 May 2024</text>
<text x="833.7" y="592" textLength="46.8" lengthAdjust="spacingAndGlyphs" xml:space="preserve">1 Sep 2024</text>
<text x="897.7" y="592" textLength="52.8" lengthAdjust="spacingAndGlyphs" xml:space="preserve">22 Dec 2024</text>
</g>
</svg></body></html>
